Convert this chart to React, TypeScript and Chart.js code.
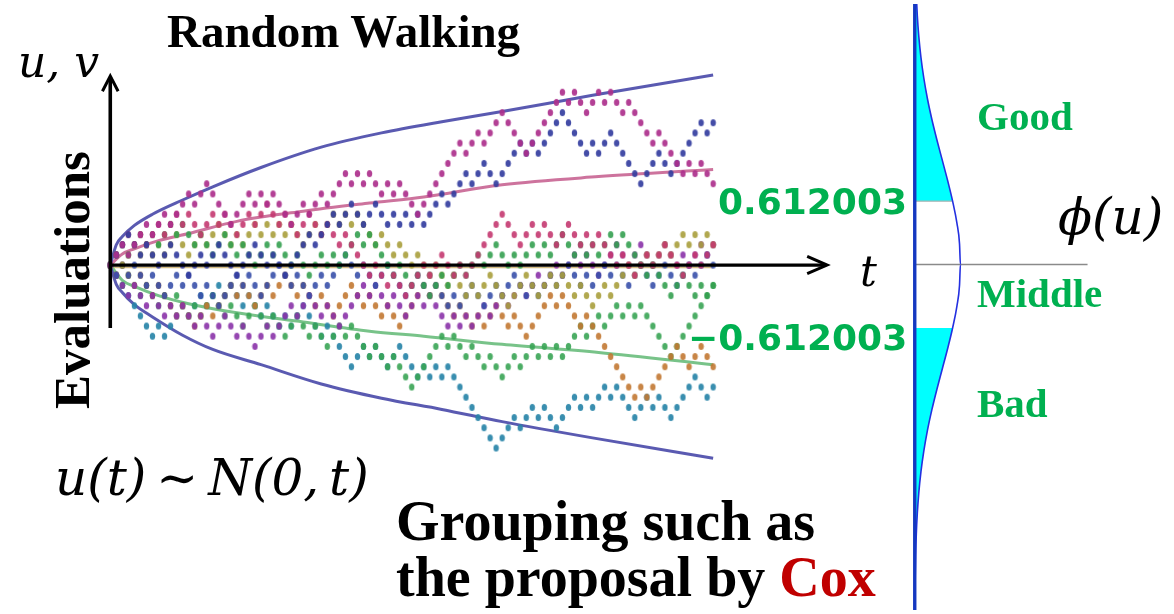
import React, { useEffect, useRef } from "react";
import { Chart, registerables } from "chart.js";

Chart.register(...registerables);

// ---------- Random walk data (level k at step t = index) ----------
const WALK_MAGENTA = [
  0, 1, 2, 1, 2, 3, 4, 3, 4, 5,
  4, 5, 6, 7, 6, 7, 8, 7, 6, 5,
  4, 5, 6, 7, 6, 7, 6, 7, 6, 5,
  4, 5, 6, 5, 6, 7, 6, 7, 8, 9,
  8, 9, 8, 9, 8, 7, 8, 7, 8, 7,
  6, 5, 6, 7, 8, 9, 10, 11, 12, 11,
  12, 13, 12, 13, 14, 15, 14, 13, 12, 11,
  12, 13, 14, 15, 16, 17, 16, 17, 16, 15,
  16, 17, 16, 17, 16, 15, 16, 15, 14, 13,
  12, 13, 12, 11, 10, 9, 10, 9, 10, 9,
  8,
];
const WALK_NAVY = [
  0, 1, 2, 3, 2, 1, 2, 1, 0, 1,
  2, 1, 0, -1, 0, 1, 0, 1, 2, 1,
  0, -1, 0, 1, 2, 1, 0, 1, 0, -1,
  0, 1, 2, 3, 2, 3, 4, 5, 4, 5,
  6, 5, 4, 5, 6, 5, 4, 5, 4, 5,
  4, 5, 4, 5, 6, 7, 6, 7, 8, 9,
  8, 9, 10, 9, 8, 9, 10, 11, 12, 11,
  12, 11, 12, 13, 14, 15, 14, 13, 12, 11,
  12, 11, 12, 13, 12, 11, 10, 9, 8, 9,
  10, 11, 10, 9, 10, 11, 12, 13, 14, 13,
  14,
];
const WALK_CRIMSON = [
  0, 1, 2, 3, 2, 3, 2, 3, 4, 3,
  4, 5, 4, 5, 4, 3, 4, 5, 4, 5,
  4, 3, 4, 5, 4, 5, 6, 5, 4, 5,
  4, 3, 4, 5, 4, 3, 4, 3, 2, 3,
  2, 1, 0, -1, 0, -1, -2, -1, -2, -3,
  -2, -1, 0, -1, 0, 1, 0, -1, 0, -1,
  0, 1, 2, 3, 4, 5, 4, 3, 2, 3,
  4, 3, 4, 3, 2, 3, 4, 3, 2, 3,
  2, 3, 2, 1, 0, 1, 0, -1, 0, 1,
  0, 1, 2, 1, 0, -1, 0, 1, 0, 1,
  2,
];
const WALK_GREEN_UP = [
  0, 1, 2, 1, 2, 3, 2, 3, 2, 3,
  4, 3, 4, 3, 2, 3, 2, 1, 2, 3,
  2, 1, 2, 1, 0, 1, 2, 1, 2, 1,
  0, 1, 0, -1, 0, 1, 0, 1, 0, 1,
  2, 3, 2, 3, 2, 1, 0, -1, 0, -1,
  -2, -1, -2, -3, -2, -1, -2, -1, 0, -1,
  0, 1, 0, 1, 2, 1, 0, 1, 0, 1,
  2, 1, 2, 1, 2, 3, 2, 1, 2, 1,
  2, 1, 2, 3, 2, 3, 2, 1, 0, -1,
  0, -1, -2, -3, -2, -1, -2, -3, -2, -3,
  -2,
];
const WALK_GREEN_DOWN = [
  0, -1, -2, -1, -2, -3, -2, -3, -4, -3,
  -4, -3, -4, -5, -4, -5, -4, -3, -4, -5,
  -4, -5, -6, -5, -4, -5, -6, -5, -6, -7,
  -6, -5, -6, -7, -6, -7, -8, -7, -6, -7,
  -6, -7, -8, -9, -8, -9, -10, -9, -10, -11,
  -12, -11, -10, -9, -8, -7, -8, -7, -8, -9,
  -8, -9, -10, -9, -10, -11, -10, -9, -10, -9,
  -8, -9, -8, -9, -8, -9, -8, -7, -6, -7,
  -6, -5, -6, -5, -4, -5, -4, -5, -4, -5,
  -6, -7, -8, -9, -8, -7, -6, -5, -4, -3,
  -2,
];
const WALK_TEAL = [
  0, -1, -2, -3, -4, -5, -6, -7, -6, -7,
  -6, -5, -4, -5, -4, -3, -4, -3, -2, -3,
  -2, -3, -4, -3, -4, -5, -4, -5, -6, -5,
  -6, -5, -4, -5, -6, -7, -6, -7, -8, -9,
  -10, -9, -8, -9, -8, -9, -10, -9, -8, -9,
  -10, -11, -10, -11, -10, -11, -10, -11, -12, -13,
  -14, -15, -16, -17, -18, -17, -16, -15, -16, -15,
  -14, -15, -14, -15, -16, -15, -14, -13, -14, -13,
  -14, -13, -12, -13, -12, -13, -14, -15, -14, -13,
  -14, -13, -14, -15, -14, -13, -12, -11, -12, -13,
  -12,
];
const WALK_ORANGE = [
  0, -1, 0, -1, -2, -1, -2, -3, -2, -3,
  -4, -5, -4, -5, -6, -5, -4, -5, -4, -3,
  -2, -3, -2, -3, -4, -3, -2, -3, -2, -1,
  -2, -3, -2, -3, -4, -3, -4, -5, -4, -3,
  -2, -3, -4, -3, -4, -5, -4, -5, -6, -5,
  -4, -3, -2, -3, -2, -3, -4, -5, -4, -5,
  -6, -5, -6, -5, -4, -5, -6, -5, -6, -7,
  -6, -5, -4, -3, -4, -3, -4, -5, -6, -5,
  -6, -7, -8, -9, -10, -11, -12, -13, -12, -13,
  -12, -11, -10, -9, -8, -9, -10, -9, -8, -9,
  -10,
];
const WALK_PURPLE = [
  0, -1, -2, -3, -2, -3, -4, -3, -4, -5,
  -4, -5, -4, -5, -6, -5, -6, -7, -6, -5,
  -6, -7, -6, -7, -8, -7, -6, -7, -6, -5,
  -4, -5, -4, -3, -4, -5, -4, -5, -6, -5,
  -4, -3, -2, -3, -2, -3, -4, -3, -4, -5,
  -4, -3, -4, -3, -4, -5, -6, -5, -6, -5,
  -6, -5, -4, -5, -4, -3, -4, -3, -2, -3,
  -2, -1, -2, -1, 0, -1, 0, 1, 0, 1,
  0, -1, 0, 1, 2, 1, 0, 1, 2, 1,
  0, 1, 2, 1, 0, 1, 0, 1, 2, 1,
  2,
];
const WALK_OLIVE = [
  0, 1, 0, 1, 2, 1, 2, 1, 2, 1,
  2, 3, 2, 1, 2, 3, 2, 3, 4, 3,
  2, 3, 2, 3, 4, 3, 4, 3, 4, 3,
  4, 3, 2, 3, 4, 3, 4, 5, 4, 5,
  4, 5, 4, 3, 2, 3, 2, 1, 2, 1,
  0, 1, 0, -1, 0, -1, -2, -1, -2, -3,
  -2, -3, -2, -1, -2, -3, -4, -3, -2, -1,
  -2, -3, -2, -1, -2, -1, -2, -3, -2, -3,
  -4, -3, -2, -3, -2, -1, 0, -1, 0, 1,
  0, 1, 2, 1, 2, 3, 2, 3, 2, 3,
  2,
];
const WALK_BLUE_LOW = [
  0, -1, 0, -1, 0, -1, -2, -1, -2, -3,
  -2, -1, -2, -1, -2, -3, -2, -3, -4, -3,
  -2, -1, -2, -1, -2, -3, -2, -1, 0, -1,
  -2, -1, -2, -3, -2, -1, -2, -1, 0, 1,
  0, -1, 0, -1, -2, -1, 0, -1, -2, -3,
  -2, -1, -2, -1, -2, -3, -4, -3, -4, -3,
  -2, -3, -4, -3, -2, -3, -2, -1, -2, -3,
  -2, -3, -2, -1, -2, -1, 0, -1, -2, -1,
  -2, -1, 0, -1, 0, -1, -2, -1, 0, -1,
  -2, -1, 0, -1, -2, -1, 0, -1, 0, 1,
  0,
];

// ---------- Envelope curves ----------
const ENV_T = [0, 1, 2, 4, 7, 12, 17, 25, 35, 45, 55, 65, 80, 100];
const ENV_UPPER = [0, 2.0, 2.8, 3.9, 5.0, 6.4, 7.7, 9.6, 11.6, 13.0, 14.1, 15.1, 16.7, 18.7];
const ENV_LOWER = [0, -1.9, -2.7, -3.9, -5.1, -6.9, -8.3, -9.8, -11.7, -13.1, -14.2, -15.4, -17.0, -19.0];
const MEAN_T = [0, 2, 4, 8, 13, 21, 32, 43, 52, 65, 81, 100];
const MEAN_UPPER = [0, 1.1, 1.6, 2.4, 3.1, 4.3, 5.3, 6.1, 6.7, 7.9, 8.7, 9.4];
const MEAN_LOWER = [0, -1.5, -2.1, -3.0, -3.8, -4.7, -5.6, -6.5, -7.0, -7.8, -8.6, -9.8];
const WALK_END = 100;

// ---------- Density panel phi(u) ----------
const U_VALUES = [2.6, 2.4, 2.2, 2.0, 1.8, 1.6, 1.4, 1.2, 1.0, 0.8, 0.612, 0.4, 0.2, 0, -0.2, -0.4, -0.612, -0.8, -1.0, -1.2, -1.4, -1.6, -1.8, -2.0, -2.2, -2.4, -2.6, -2.8, -3.0, -3.2, -3.4];
const PHI_VALUES = [0.0136, 0.0224, 0.0355, 0.054, 0.079, 0.1109, 0.1497, 0.1942, 0.242, 0.2897, 0.3306, 0.3683, 0.391, 0.3989, 0.391, 0.3683, 0.3306, 0.2897, 0.242, 0.1942, 0.1497, 0.1109, 0.079, 0.054, 0.0355, 0.0224, 0.0136, 0.0079, 0.0044, 0.0024, 0.0012];
const CUT = 0.612;
const MIDLINE_END = 1.509;

const WALKS: { data: number[]; color: string }[] = [
  { data: WALK_MAGENTA, color: "rgba(172,48,140,0.92)" },
  { data: WALK_NAVY, color: "rgba(52,62,160,0.92)" },
  { data: WALK_CRIMSON, color: "rgba(196,56,112,0.9)" },
  { data: WALK_GREEN_UP, color: "rgba(52,160,80,0.9)" },
  { data: WALK_OLIVE, color: "rgba(168,158,60,0.9)" },
  { data: WALK_BLUE_LOW, color: "rgba(56,80,170,0.9)" },
  { data: WALK_PURPLE, color: "rgba(138,50,168,0.9)" },
  { data: WALK_ORANGE, color: "rgba(194,120,50,0.9)" },
  { data: WALK_GREEN_DOWN, color: "rgba(56,164,84,0.9)" },
  { data: WALK_TEAL, color: "rgba(40,132,168,0.92)" },
];

function dotImage(color: string) {
  const c = document.createElement("canvas");
  c.width = 7;
  c.height = 9;
  const g = c.getContext("2d")!;
  g.fillStyle = color;
  g.beginPath();
  g.ellipse(3.5, 4.5, 2.7, 3.6, 0, 0, Math.PI * 2);
  g.fill();
  return c;
}

const pairs = (xs: number[], ys: number[]) => xs.map((x, i) => ({ x, y: ys[i] }));

export default function App() {
  const ref = useRef<HTMLCanvasElement | null>(null);

  useEffect(() => {
    if (!ref.current) return;

    const lineDs = (data: any[], color: string, width: number, order: number, extra: any = {}) => ({
      data,
      borderColor: color,
      borderWidth: width,
      pointRadius: 0,
      showLine: true,
      fill: false,
      tension: 0,
      order,
      ...extra,
    });

    const datasets: any[] = [];

    // axes with arrows
    datasets.push(lineDs([{ x: 0, y: 0 }, { x: 118.6, y: 0 }], "#000", 3.2, 0));
    datasets.push(lineDs([{ x: 115.6, y: 0.85 }, { x: 118.9, y: 0 }, { x: 115.6, y: -0.85 }], "#000", 3, 0));
    datasets.push(lineDs([{ x: 0, y: -6.2 }, { x: 0, y: 18.5 }], "#000", 3.6, 0));
    datasets.push(lineDs([{ x: -1.3, y: 17.1 }, { x: 0, y: 18.6 }, { x: 1.3, y: 17.1 }], "#000", 3, 0));

    // walks
    WALKS.forEach((w, idx) => {
      datasets.push({
        data: w.data.map((k, i) => ({ x: i, y: k })),
        showLine: false,
        pointStyle: dotImage(w.color),
        pointRadius: 3,
        pointHoverRadius: 3,
        order: 2 + idx,
      });
    });

    // envelopes
    const curve = { cubicInterpolationMode: "monotone" };
    datasets.push(lineDs(pairs(ENV_T, ENV_UPPER), "rgba(72,72,168,0.9)", 3, 20, curve));
    datasets.push(lineDs(pairs(ENV_T, ENV_LOWER), "rgba(72,72,168,0.9)", 3, 20, curve));
    datasets.push(lineDs(pairs(MEAN_T, MEAN_UPPER), "rgba(196,90,140,0.85)", 3, 20, curve));
    datasets.push(lineDs(pairs(MEAN_T, MEAN_LOWER), "rgba(96,184,116,0.85)", 3, 20, curve));
    datasets.push(lineDs([{ x: 0, y: -0.25 }, { x: WALK_END, y: -0.25 }], "rgba(200,170,100,0.8)", 1.5, 21));

    // density panel
    const axes2 = { xAxisID: "x2", yAxisID: "y2" };
    const curvePts = U_VALUES.map((u, i) => ({ x: PHI_VALUES[i], y: u }));
    const upperTail = curvePts.filter((p) => p.y >= CUT);
    const lowerTail = curvePts.filter((p) => p.y <= -CUT);
    datasets.push(
      lineDs(
        [{ x: 0, y: upperTail[0].y }, ...upperTail, { x: 0, y: CUT }],
        "rgba(0,0,0,0)",
        0,
        40,
        { ...axes2, fill: "shape", backgroundColor: "#00ffff" }
      )
    );
    datasets.push(
      lineDs(
        [{ x: 0, y: -CUT }, ...lowerTail, { x: 0, y: lowerTail[lowerTail.length - 1].y }],
        "rgba(0,0,0,0)",
        0,
        40,
        { ...axes2, fill: "shape", backgroundColor: "#00ffff" }
      )
    );
    datasets.push(lineDs([{ x: 0, y: CUT }, { x: PHI_VALUES[10], y: CUT }], "#b0b0b0", 1.2, 35, axes2));
    datasets.push(lineDs([{ x: 0, y: 0 }, { x: MIDLINE_END, y: 0 }], "#8a8a8a", 1.5, 35, axes2));
    datasets.push(lineDs(curvePts, "#2430e0", 1.6, 31, { ...axes2, cubicInterpolationMode: "monotone" }));
    datasets.push(lineDs([{ x: 0, y: -3.4 }, { x: 0, y: 2.6 }], "#1438c0", 3.4, 30, axes2));

    const chart = new Chart(ref.current, {
      type: "line",
      data: { datasets },
      options: {
        animation: false,
        responsive: false,
        maintainAspectRatio: false,
        events: [],
        layout: { padding: 0 },
        plugins: { legend: { display: false }, tooltip: { enabled: false }, title: { display: false } },
        scales: {
          x: { type: "linear", min: -17.628, max: 175.782, display: false },
          y: { type: "linear", min: -33.93, max: 25.68, display: false },
          x2: { type: "linear", axis: "x", min: -7.9532, max: 2.229, display: false },
          y2: { type: "linear", axis: "y", min: -3.333, max: 2.514, display: false },
        },
      } as any,
    });
    return () => chart.destroy();
  }, []);

  const serifBold = '"Liberation Serif", "Times New Roman", serif';
  const math = '"DejaVu Serif", serif';
  const green = "#00b050";
  const base: React.CSSProperties = { position: "absolute", lineHeight: 1, whiteSpace: "nowrap", margin: 0 };

  return (
    <div style={{ position: "absolute", left: 0, top: 0, width: 1174, height: 614, background: "#fff", overflow: "hidden" }}>
      <canvas ref={ref} width={1174} height={614} style={{ position: "absolute", left: 0, top: 0 }} />
      <div style={{ ...base, left: 167, top: 8, fontFamily: serifBold, fontWeight: 700, fontSize: 47 }}>Random Walking</div>
      <div style={{ ...base, left: 18, top: 40, fontFamily: math, fontStyle: "italic", fontSize: 44 }}>u, v</div>
      <div
        style={{
          ...base,
          left: 72 - 150,
          top: 280 - 26,
          width: 300,
          height: 52,
          lineHeight: "52px",
          textAlign: "center",
          fontFamily: serifBold,
          fontWeight: 700,
          fontSize: 51,
          transform: "rotate(-90deg)",
          transformOrigin: "50% 50%",
        }}
      >
        Evaluations
      </div>
      <div style={{ ...base, left: 860, top: 251, fontFamily: math, fontStyle: "italic", fontSize: 42 }}>t</div>
      <div style={{ ...base, left: 718, top: 184, fontFamily: '"DejaVu Sans", sans-serif', fontWeight: 700, fontSize: 36, color: green }}>0.612003</div>
      <div style={{ ...base, left: 688, top: 320, fontFamily: '"DejaVu Sans", sans-serif', fontWeight: 700, fontSize: 36, color: green }}>−0.612003</div>
      <div style={{ ...base, left: 1058, top: 192, fontFamily: math, fontStyle: "italic", fontSize: 50 }}>ϕ(u)</div>
      <div style={{ ...base, left: 977, top: 96, fontFamily: serifBold, fontWeight: 700, fontSize: 41, color: green }}>Good</div>
      <div style={{ ...base, left: 977, top: 273, fontFamily: serifBold, fontWeight: 700, fontSize: 41, color: green }}>Middle</div>
      <div style={{ ...base, left: 977, top: 383, fontFamily: serifBold, fontWeight: 700, fontSize: 41, color: green }}>Bad</div>
      <div style={{ ...base, left: 55, top: 453, fontFamily: math, fontStyle: "italic", fontSize: 50 }}>u(t)&#8201;∼&#8201;N(0,&#8201;t)</div>
      <div style={{ ...base, left: 396, top: 493, fontFamily: serifBold, fontWeight: 700, fontSize: 56 }}>Grouping such as</div>
      <div style={{ ...base, left: 396, top: 549, fontFamily: serifBold, fontWeight: 700, fontSize: 56 }}>
        the proposal by <span style={{ color: "#c00000" }}>Cox</span>
      </div>
    </div>
  );
}
